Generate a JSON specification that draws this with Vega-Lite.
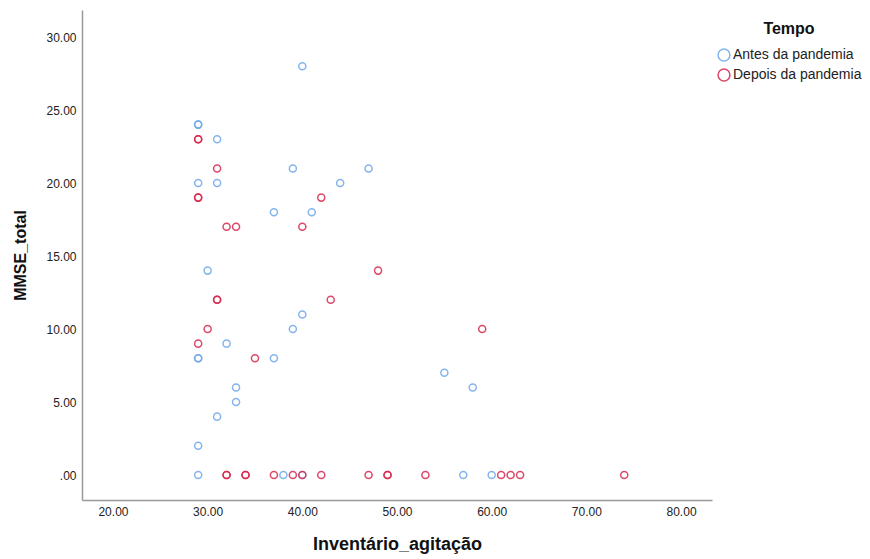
{
  "$schema": "https://vega.github.io/schema/vega-lite/v6.json",
  "autosize": "none",
  "width": 630,
  "height": 490,
  "padding": {"left": 82, "top": 10, "right": 158, "bottom": 59},
  "background": "white",
  "config": {
    "view": {"stroke": null},
    "font": "Liberation Sans"
  },
  "data": {
    "values": [
      {"agitacao": 40, "mmse": 28, "Tempo": "Antes da pandemia"},
      {"agitacao": 29, "mmse": 24, "Tempo": "Antes da pandemia"},
      {"agitacao": 29, "mmse": 24, "Tempo": "Antes da pandemia"},
      {"agitacao": 31, "mmse": 23, "Tempo": "Antes da pandemia"},
      {"agitacao": 39, "mmse": 21, "Tempo": "Antes da pandemia"},
      {"agitacao": 47, "mmse": 21, "Tempo": "Antes da pandemia"},
      {"agitacao": 29, "mmse": 20, "Tempo": "Antes da pandemia"},
      {"agitacao": 31, "mmse": 20, "Tempo": "Antes da pandemia"},
      {"agitacao": 44, "mmse": 20, "Tempo": "Antes da pandemia"},
      {"agitacao": 37, "mmse": 18, "Tempo": "Antes da pandemia"},
      {"agitacao": 41, "mmse": 18, "Tempo": "Antes da pandemia"},
      {"agitacao": 30, "mmse": 14, "Tempo": "Antes da pandemia"},
      {"agitacao": 40, "mmse": 11, "Tempo": "Antes da pandemia"},
      {"agitacao": 39, "mmse": 10, "Tempo": "Antes da pandemia"},
      {"agitacao": 32, "mmse": 9, "Tempo": "Antes da pandemia"},
      {"agitacao": 29, "mmse": 8, "Tempo": "Antes da pandemia"},
      {"agitacao": 29, "mmse": 8, "Tempo": "Antes da pandemia"},
      {"agitacao": 37, "mmse": 8, "Tempo": "Antes da pandemia"},
      {"agitacao": 55, "mmse": 7, "Tempo": "Antes da pandemia"},
      {"agitacao": 58, "mmse": 6, "Tempo": "Antes da pandemia"},
      {"agitacao": 33, "mmse": 6, "Tempo": "Antes da pandemia"},
      {"agitacao": 33, "mmse": 5, "Tempo": "Antes da pandemia"},
      {"agitacao": 31, "mmse": 4, "Tempo": "Antes da pandemia"},
      {"agitacao": 29, "mmse": 2, "Tempo": "Antes da pandemia"},
      {"agitacao": 29, "mmse": 0, "Tempo": "Antes da pandemia"},
      {"agitacao": 38, "mmse": 0, "Tempo": "Antes da pandemia"},
      {"agitacao": 40, "mmse": 0, "Tempo": "Antes da pandemia"},
      {"agitacao": 57, "mmse": 0, "Tempo": "Antes da pandemia"},
      {"agitacao": 60, "mmse": 0, "Tempo": "Antes da pandemia"},
      {"agitacao": 29, "mmse": 23, "Tempo": "Depois da pandemia"},
      {"agitacao": 29, "mmse": 23, "Tempo": "Depois da pandemia"},
      {"agitacao": 31, "mmse": 21, "Tempo": "Depois da pandemia"},
      {"agitacao": 42, "mmse": 19, "Tempo": "Depois da pandemia"},
      {"agitacao": 29, "mmse": 19, "Tempo": "Depois da pandemia"},
      {"agitacao": 29, "mmse": 19, "Tempo": "Depois da pandemia"},
      {"agitacao": 32, "mmse": 17, "Tempo": "Depois da pandemia"},
      {"agitacao": 33, "mmse": 17, "Tempo": "Depois da pandemia"},
      {"agitacao": 40, "mmse": 17, "Tempo": "Depois da pandemia"},
      {"agitacao": 48, "mmse": 14, "Tempo": "Depois da pandemia"},
      {"agitacao": 31, "mmse": 12, "Tempo": "Depois da pandemia"},
      {"agitacao": 31, "mmse": 12, "Tempo": "Depois da pandemia"},
      {"agitacao": 43, "mmse": 12, "Tempo": "Depois da pandemia"},
      {"agitacao": 30, "mmse": 10, "Tempo": "Depois da pandemia"},
      {"agitacao": 59, "mmse": 10, "Tempo": "Depois da pandemia"},
      {"agitacao": 29, "mmse": 9, "Tempo": "Depois da pandemia"},
      {"agitacao": 35, "mmse": 8, "Tempo": "Depois da pandemia"},
      {"agitacao": 32, "mmse": 0, "Tempo": "Depois da pandemia"},
      {"agitacao": 32, "mmse": 0, "Tempo": "Depois da pandemia"},
      {"agitacao": 34, "mmse": 0, "Tempo": "Depois da pandemia"},
      {"agitacao": 34, "mmse": 0, "Tempo": "Depois da pandemia"},
      {"agitacao": 37, "mmse": 0, "Tempo": "Depois da pandemia"},
      {"agitacao": 39, "mmse": 0, "Tempo": "Depois da pandemia"},
      {"agitacao": 40, "mmse": 0, "Tempo": "Depois da pandemia"},
      {"agitacao": 42, "mmse": 0, "Tempo": "Depois da pandemia"},
      {"agitacao": 47, "mmse": 0, "Tempo": "Depois da pandemia"},
      {"agitacao": 49, "mmse": 0, "Tempo": "Depois da pandemia"},
      {"agitacao": 49, "mmse": 0, "Tempo": "Depois da pandemia"},
      {"agitacao": 53, "mmse": 0, "Tempo": "Depois da pandemia"},
      {"agitacao": 61, "mmse": 0, "Tempo": "Depois da pandemia"},
      {"agitacao": 62, "mmse": 0, "Tempo": "Depois da pandemia"},
      {"agitacao": 63, "mmse": 0, "Tempo": "Depois da pandemia"},
      {"agitacao": 74, "mmse": 0, "Tempo": "Depois da pandemia"}
    ]
  },
  "mark": {"type": "point", "filled": false, "strokeWidth": 1.5, "size": 50, "opacity": 0.85},
  "encoding": {
    "x": {
      "field": "agitacao",
      "type": "quantitative",
      "title": "Inventário_agitação",
      "scale": {"domain": [16.73, 83.27], "nice": false, "zero": false},
      "axis": {
        "values": [20, 30, 40, 50, 60, 70, 80],
        "format": ".2f",
        "grid": false,
        "ticks": false,
        "domainColor": "#999999",
        "domainWidth": 1.5,
        "labelFont": "Liberation Sans",
        "labelFontSize": 12,
        "labelColor": "#222222",
        "labelPadding": 6,
        "titleFont": "Liberation Sans",
        "titleFontSize": 18,
        "titleFontWeight": "bold",
        "titleColor": "#111111",
        "titlePadding": 18
      }
    },
    "y": {
      "field": "mmse",
      "type": "quantitative",
      "title": "MMSE_total",
      "scale": {"domain": [-1.71, 31.85], "nice": false, "zero": false},
      "axis": {
        "values": [0, 5, 10, 15, 20, 25, 30],
        "labelExpr": "datum.value == 0 ? '.00' : format(datum.value, '.2f')",
        "grid": false,
        "ticks": false,
        "domainColor": "#999999",
        "domainWidth": 1.5,
        "labelFont": "Liberation Sans",
        "labelFontSize": 12,
        "labelColor": "#222222",
        "labelPadding": 6,
        "titleFont": "Liberation Sans",
        "titleFontSize": 16,
        "titleFontWeight": "bold",
        "titleColor": "#111111",
        "titlePadding": 17
      }
    },
    "color": {
      "field": "Tempo",
      "type": "nominal",
      "scale": {
        "domain": ["Antes da pandemia", "Depois da pandemia"],
        "range": ["#6FA8EC", "#D8284E"]
      },
      "legend": {
        "orient": "none",
        "legendX": 635,
        "legendY": 11,
        "title": "Tempo",
        "titleFont": "Liberation Sans",
        "titleFontSize": 16,
        "titleFontWeight": "bold",
        "titleColor": "#111111",
        "titleAnchor": "middle",
        "titlePadding": 11,
        "labelFont": "Liberation Sans",
        "labelFontSize": 14,
        "labelColor": "#222222",
        "labelOffset": 2,
        "symbolType": "circle",
        "symbolFillColor": "white",
        "symbolSize": 140,
        "symbolStrokeWidth": 1.5,
        "rowPadding": 2
      }
    }
  }
}
